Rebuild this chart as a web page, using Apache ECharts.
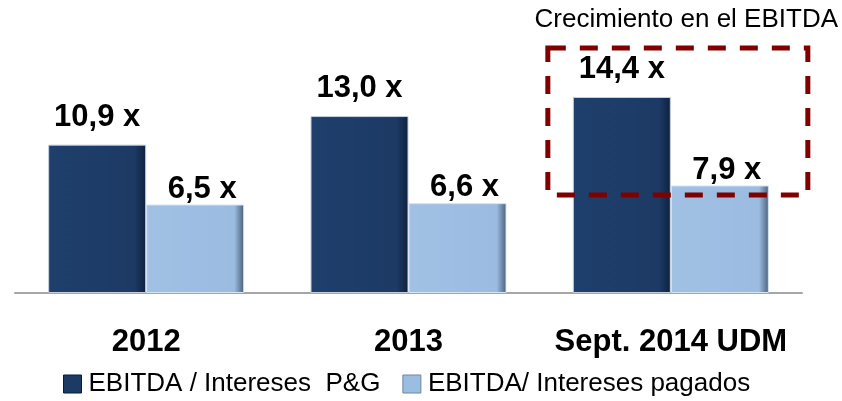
<!DOCTYPE html>
<html>
<head>
<meta charset="utf-8">
<script src="https://cdn.jsdelivr.net/npm/echarts@6/dist/echarts.min.js"></script>
<style>
  html, body { margin: 0; padding: 0; background: #fff; }
  #chart { width: 842px; height: 401px; }
</style>
</head>
<body>
<div id="chart"></div>
<script>
var categories = ["2012", "2013", "Sept. 2014 UDM"];
var seriesNames = ["EBITDA / Intereses  P&G", "EBITDA/ Intereses pagados"];
var pygValues = [10.9, 13.0, 14.4];
var pagadosValues = [6.5, 6.6, 7.9];
var noteText = "Crecimiento en el EBITDA";
// caja punteada: categoria y rango de valores
var boxCategory = 2;
var boxTop = 18;
var boxBottom = 7.2;

var fmt = function (p) {
    return p.value.toFixed(1).replace(".", ",") + " x";
};

var chart = echarts.init(document.getElementById("chart"));

var option = {
    animation: false,
    grid: { left: 15, right: 40, top: 48, bottom: 108 },
    legend: {
        left: 58,
        top: 366,
        itemWidth: 18,
        itemHeight: 18,
        itemGap: 22,
        textStyle: { fontFamily: "Liberation Sans, Arial", fontSize: 26, color: "#000", padding: [0, 0, 0, 2] },
        data: [
            { name: seriesNames[0], icon: "rect", itemStyle: { color: "#1b3a66", borderColor: "#0a1a33", borderWidth: 1 } },
            { name: seriesNames[1], icon: "rect", itemStyle: { color: "#9cbde2", borderColor: "#6f86a3", borderWidth: 1 } }
        ]
    },
    xAxis: {
        type: "category",
        data: categories,
        axisLine: { lineStyle: { color: "#a6a6a6", width: 2 } },
        axisTick: { show: false },
        axisLabel: {
            interval: 0,
            margin: 34,
            fontFamily: "Liberation Sans, Arial",
            fontWeight: "bold",
            fontSize: 31,
            color: "#000"
        }
    },
    yAxis: {
        type: "value",
        min: 0,
        max: 18,
        show: false,
        splitLine: { show: false }
    },
    series: [
        {
            name: seriesNames[0],
            type: "bar",
            data: pygValues,
            barWidth: 98,
            barGap: "0%",
            itemStyle: {
                color: new echarts.graphic.LinearGradient(0, 0, 1, 0, [
                    { offset: 0, color: "#1f3f6c" },
                    { offset: 0.88, color: "#1c3a64" },
                    { offset: 1, color: "#0d2140" }
                ]),
                borderColor: "#c4cede",
                borderWidth: 1
            },
            label: {
                show: true,
                position: "top",
                distance: 12,
                formatter: fmt,
                fontFamily: "Liberation Sans, Arial",
                fontWeight: "bold",
                fontSize: 31,
                color: "#000"
            }
        },
        {
            name: seriesNames[1],
            type: "bar",
            data: pagadosValues,
            barWidth: 98,
            itemStyle: {
                color: new echarts.graphic.LinearGradient(0, 0, 1, 0, [
                    { offset: 0, color: "#a0c0e4" },
                    { offset: 0.9, color: "#9bbbe0" },
                    { offset: 1, color: "#4a5f7a" }
                ]),
                borderColor: "#d5e3f3",
                borderWidth: 1
            },
            label: {
                show: true,
                position: "top",
                distance: 0,
                offset: [7, 0],
                formatter: fmt,
                fontFamily: "Liberation Sans, Arial",
                fontWeight: "bold",
                fontSize: 31,
                color: "#000"
            }
        }
    ]
};

chart.setOption(option);

// anotacion: caja punteada y texto arriba a la derecha
var pTop = chart.convertToPixel({ gridIndex: 0 }, [boxCategory, boxTop]);
var pBot = chart.convertToPixel({ gridIndex: 0 }, [boxCategory, boxBottom]);
chart.setOption({
    graphic: [
        {
            type: "rect",
            shape: { x: pTop[0] - 123, y: pTop[1], width: 260, height: pBot[1] - pTop[1] },
            style: { fill: null, stroke: "#800000", lineWidth: 5, lineDash: [18, 14] },
            z: 10
        },
        {
            type: "text",
            right: 4,
            top: 7,
            style: { text: noteText, fontFamily: "Liberation Sans, Arial", fontSize: 26, fill: "#000" }
        }
    ]
});
</script>
</body>
</html>
